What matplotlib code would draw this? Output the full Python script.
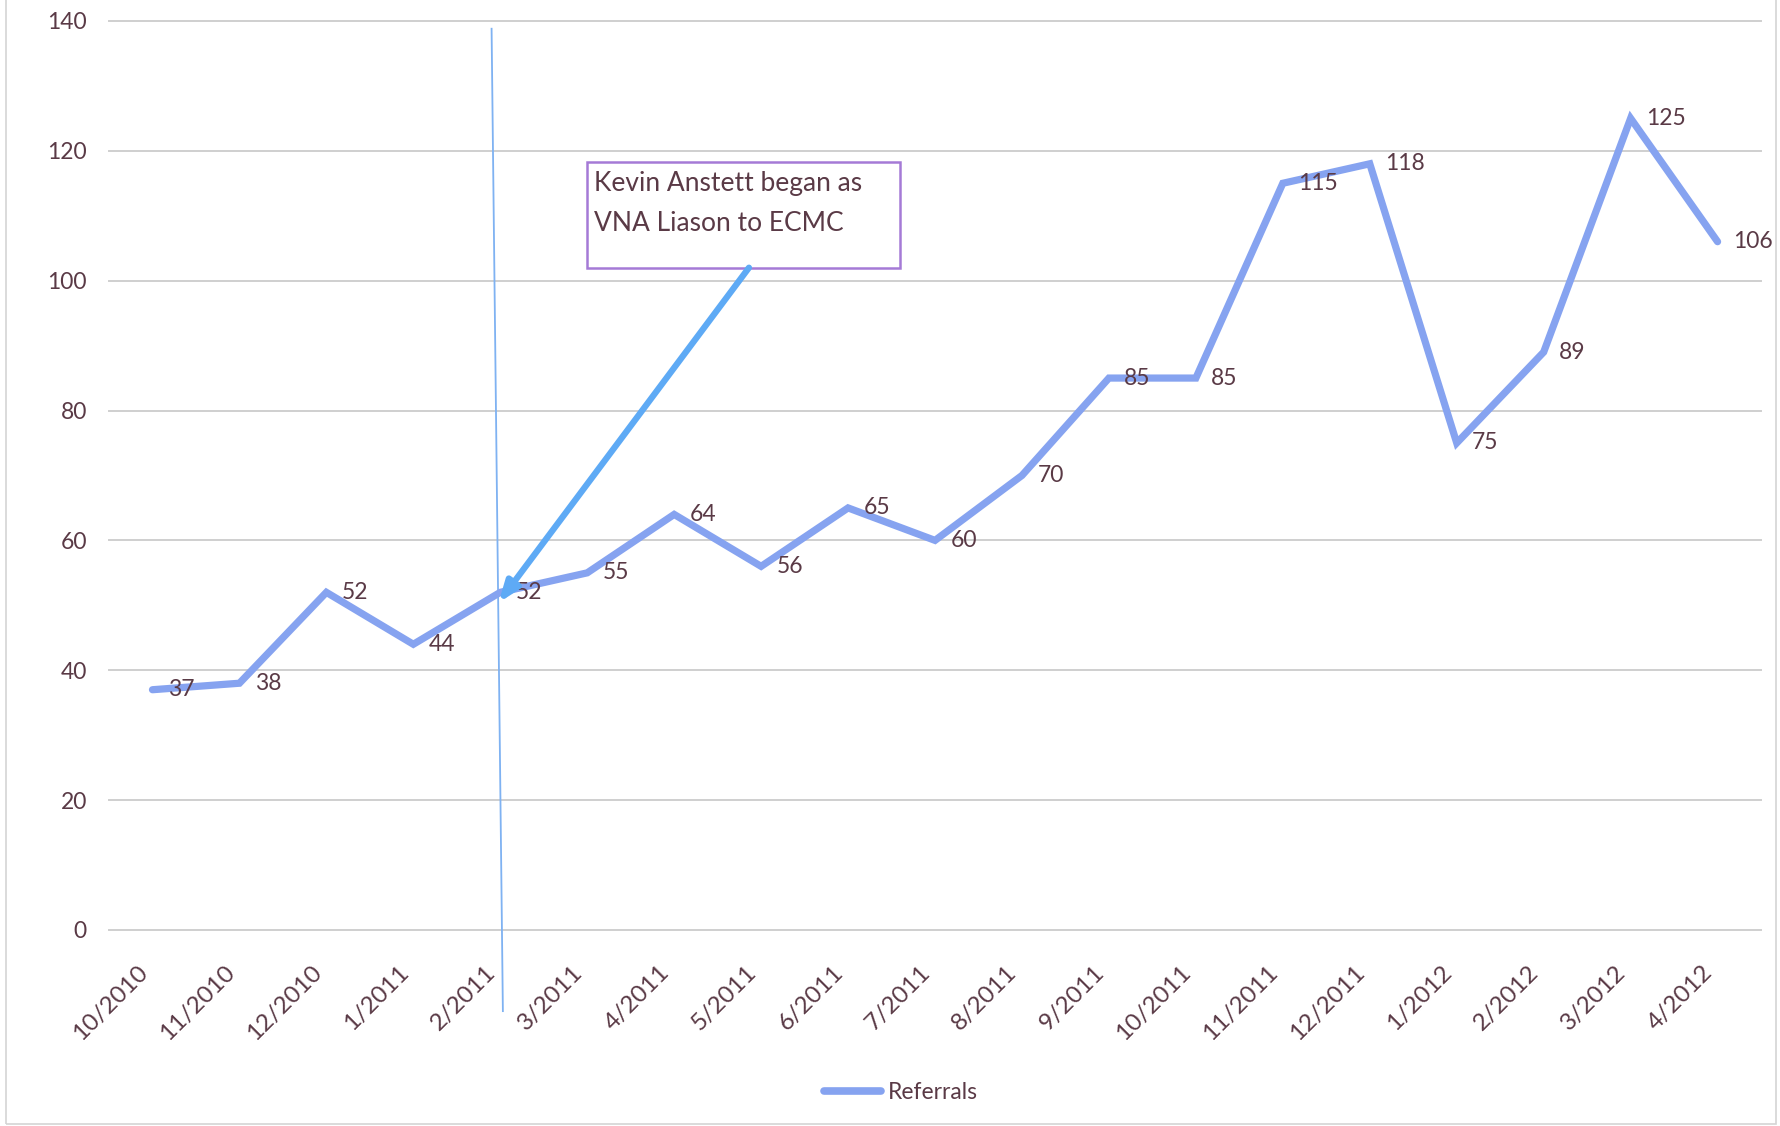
import numpy as np
import matplotlib
matplotlib.use('Agg')
import matplotlib.pyplot as plt
from matplotlib.patches import Rectangle
from matplotlib.lines import Line2D

# data
months = ['10/2010', '11/2010', '12/2010', '1/2011', '2/2011', '3/2011', '4/2011',
          '5/2011', '6/2011', '7/2011', '8/2011', '9/2011', '10/2011', '11/2011',
          '12/2011', '1/2012', '2/2012', '3/2012', '4/2012']
referrals = [37, 38, 52, 44, 52, 55, 64, 56, 65, 60, 70, 85, 85, 115, 118, 75, 89, 125, 106]
yticks = [0, 20, 40, 60, 80, 100, 120, 140]
note = 'Kevin Anstett began as\nVNA Liason to ECMC'
start_month = '2/2011'

txt_col = '#5a3a46'
line_col = '#86a3f0'
grid_col = '#cfcfcf'
plt.rcParams['font.family'] = ['Lato', 'DejaVu Sans']

fig = plt.figure(figsize=(17.81, 11.26), dpi=100)
ax = fig.add_axes([0.0612, 0.1741, 0.9276, 0.8073])

x = np.arange(len(months))
ax.plot(x, referrals, color=line_col, lw=5.2, solid_joinstyle='miter',
        solid_capstyle='round', label='Referrals', zorder=3)

for i, v in enumerate(referrals):
    ax.annotate(str(v), (i, v), xytext=(11, 0), textcoords='offset points',
                ha='left', va='center', fontsize=16.5, color=txt_col, zorder=4)

ax.set_xlim(-0.5, len(months) - 0.5)
ax.set_ylim(0, 140)
ax.set_yticks(yticks)
ax.set_xticks(x)
ax.set_xticklabels([])
# category labels, slanted like excel does them
for i, m in enumerate(months):
    ax.annotate(m, (i, 0), xycoords=('data', 'axes fraction'), xytext=(-6, -28),
                textcoords='offset points', rotation=45, ha='right', va='center',
                rotation_mode='anchor', fontsize=17.5, color=txt_col,
                annotation_clip=False)
ax.tick_params(axis='x', length=0)
ax.tick_params(axis='y', length=0, pad=16, labelsize=16.5, labelcolor=txt_col)
ax.grid(axis='y', color=grid_col, lw=1.4)
ax.set_axisbelow(True)
for gl in ax.get_ygridlines():
    gl.set_clip_on(False)
for s in ax.spines.values():
    s.set_visible(False)

# marker line where the liaison started
k = months.index(start_month)
ax.plot([k - 0.1, k + 0.03], [138.8, -12.5], color='#7fb2f2', lw=1.3,
        clip_on=False, zorder=2)

# note box and arrow
ax.add_patch(Rectangle((k + 1.0, 102), 3.6, 16.2, fill=False,
                       edgecolor='#a57ad6', lw=1.8, zorder=5))
ax.text(k + 1.08, 111.9, note, fontsize=19, color=txt_col, va='center',
        ha='left', linespacing=1.75, zorder=6)
ax.annotate('', xy=(k - 0.02, 50.4), xytext=(k + 2.86, 102.0),
            arrowprops=dict(arrowstyle='-|>,head_length=1.2,head_width=0.45',
                            color='#5eaaf5', lw=4.5, shrinkA=0, shrinkB=0),
            zorder=6)

leg = fig.legend(handles=[Line2D([], [], color=line_col, lw=5.5, solid_capstyle='round')],
                 labels=['Referrals'], loc='center', bbox_to_anchor=(0.506, 0.030),
                 frameon=False, fontsize=16.5, handlelength=2.5, handletextpad=0.3)
for t in leg.get_texts():
    t.set_color(txt_col)

# chart frame
fig.add_artist(Rectangle((0.0035, 0.002), 0.9935, 1.2, transform=fig.transFigure,
                         fill=False, edgecolor='#d4d4d4', lw=1.2))

fig.savefig('out.png', dpi=100, facecolor='white')
